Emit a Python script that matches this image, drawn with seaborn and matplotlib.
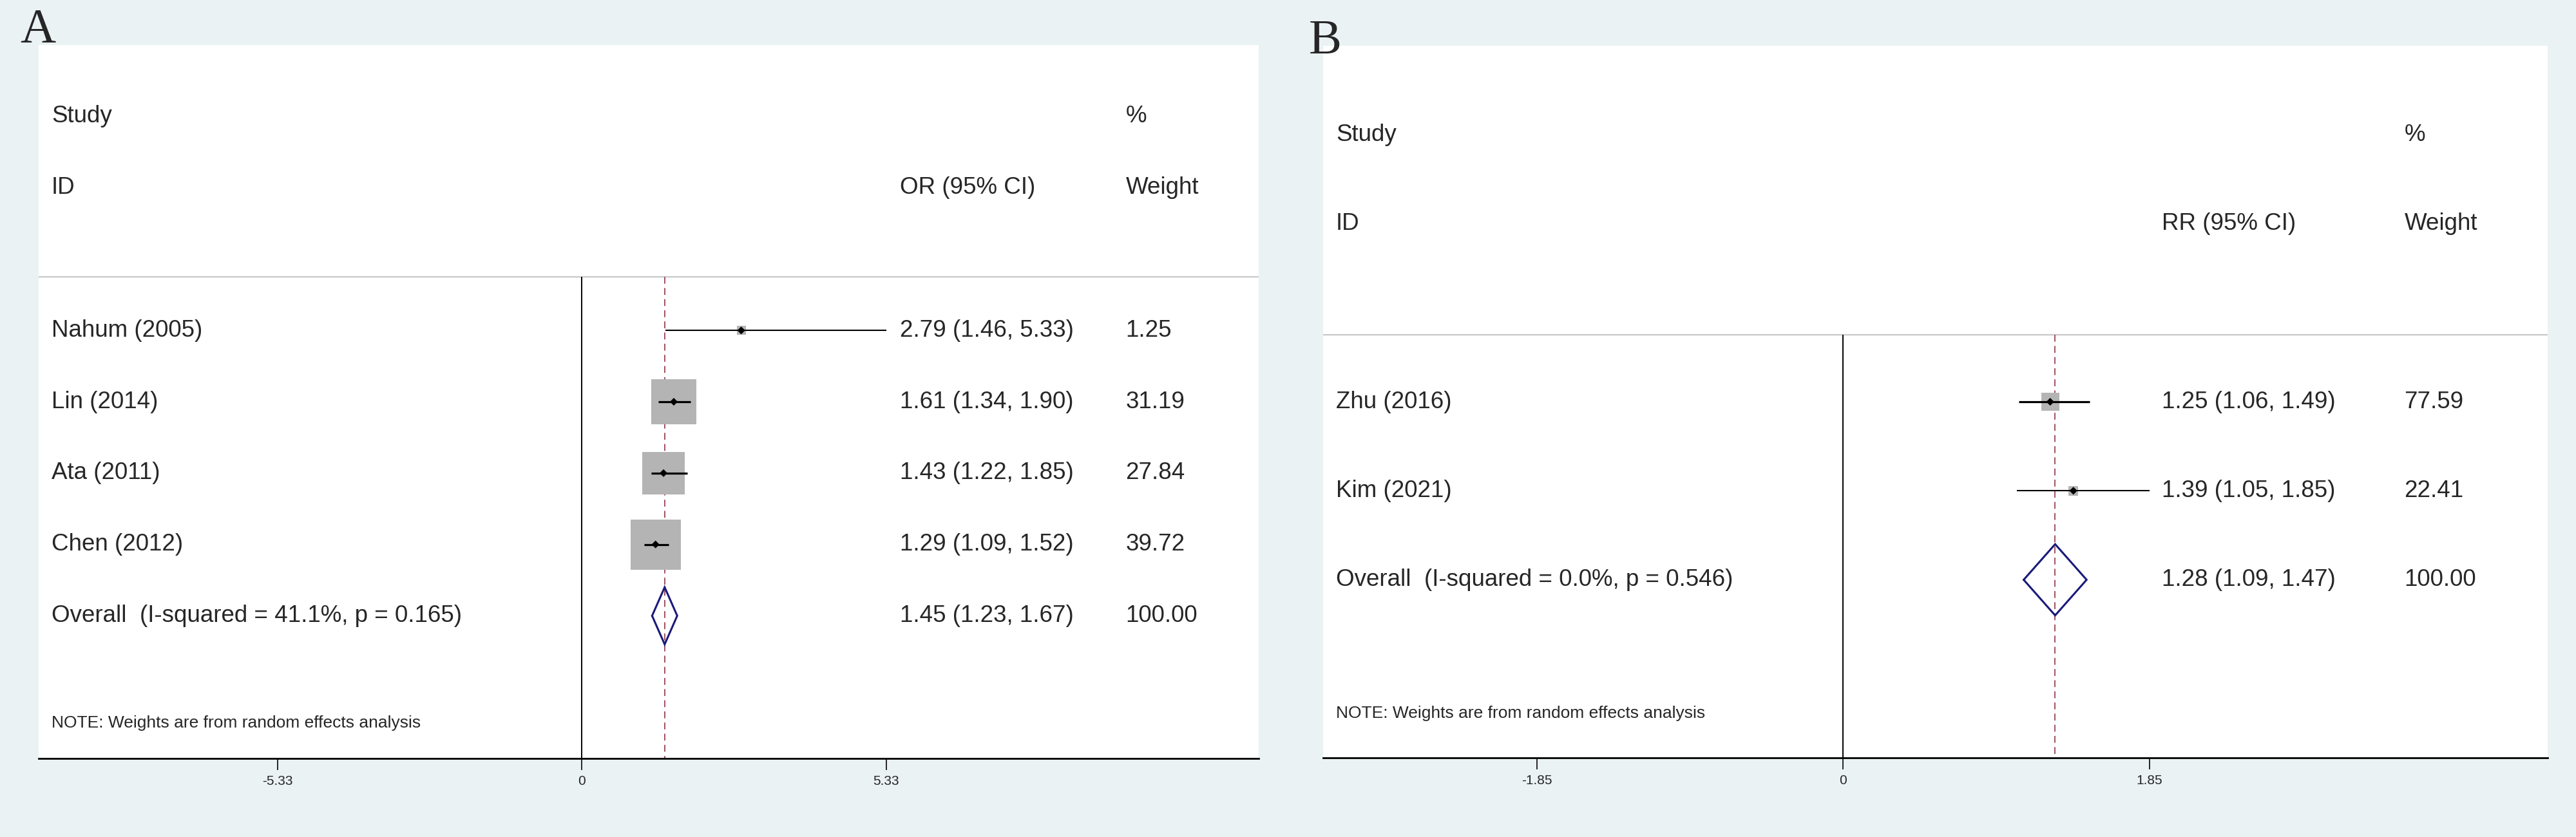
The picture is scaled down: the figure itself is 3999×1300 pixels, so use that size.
import numpy as np
import matplotlib
matplotlib.use("Agg")
import matplotlib.pyplot as plt
import seaborn as sns

# Panel A: odds ratios
a_studies = ["Nahum (2005)", "Lin (2014)", "Ata (2011)", "Chen (2012)"]
a_es = [2.79, 1.61, 1.43, 1.29]
a_lo = [1.46, 1.34, 1.22, 1.09]
a_hi = [5.33, 1.90, 1.85, 1.52]
a_weight = [1.25, 31.19, 27.84, 39.72]
a_overall = [1.45, 1.23, 1.67]
a_overall_label = "Overall  (I-squared = 41.1%, p = 0.165)"
a_ticks = [-5.33, 0, 5.33]
a_tick_labels = ["-5.33", "0", "5.33"]

# Panel B: risk ratios
b_studies = ["Zhu (2016)", "Kim (2021)"]
b_es = [1.25, 1.39]
b_lo = [1.06, 1.05]
b_hi = [1.49, 1.85]
b_weight = [77.59, 22.41]
b_overall = [1.28, 1.09, 1.47]
b_overall_label = "Overall  (I-squared = 0.0%, p = 0.546)"
b_ticks = [-1.85, 0, 1.85]
b_tick_labels = ["-1.85", "0", "1.85"]

note = "NOTE: Weights are from random effects analysis"

sns.set_style("white")
plt.rcParams['font.family'] = ['Liberation Sans', 'DejaVu Sans']

BG = "#eaf2f3"
GREY_BOX = "#b4b4b4"
NAVY = "#1a1a7a"
MAROON = "#a0505f"
TXT = 26.5


def forest(ax, studies, es, lo, hi, weight, overall, overall_label, measure,
           ticks, tick_labels, xlim, box_k, cols):
    n = len(studies)
    rows = np.arange(n)
    bottom = n + 2
    ax.set_facecolor("white")
    ax.set_xlim(*xlim)
    ax.set_ylim(bottom, -4)

    # header separator, null line, overall line
    ax.axhline(-0.75, color="#c8c8c8", lw=1.6, zorder=1)
    ax.vlines(0, -0.75, bottom, color="black", lw=1.4, zorder=2)
    ax.vlines(overall[0], -0.75, bottom, color=MAROON, lw=1.4,
              linestyles=(0, (5.5, 3.4)), zorder=1)

    # weight boxes, CI lines, point estimates
    w = np.array(weight)
    sizes = (box_k * np.sqrt(w) * 0.72) ** 2
    sns.scatterplot(x=es, y=rows, marker="s", s=sizes, color=GREY_BOX,
                    edgecolor="none", linewidth=0, zorder=3, ax=ax, legend=False)
    ax.hlines(rows, lo, hi, color="black", lw=np.where(w > 25, 2.3, 1.5), zorder=4)
    sns.scatterplot(x=es, y=rows, marker="D", s=38, color="black",
                    edgecolor="none", linewidth=0, zorder=5, ax=ax, legend=False)

    # overall diamond
    yo = n
    dx = [overall[1], overall[0], overall[2], overall[0], overall[1]]
    dy = [yo, yo - 0.4, yo, yo + 0.4, yo]
    ax.plot(dx, dy, color=NAVY, lw=2.2, zorder=5, solid_joinstyle="miter")

    # text columns
    tr = ax.get_yaxis_transform()
    c0, c1, c2 = cols
    ax.text(c0, -3, "Study", transform=tr, fontsize=TXT, va="center")
    ax.text(c0, -2, "ID", transform=tr, fontsize=TXT, va="center")
    ax.text(c1, -2, measure + " (95% CI)", transform=tr, fontsize=TXT, va="center")
    ax.text(c2, -3, "%", transform=tr, fontsize=TXT, va="center")
    ax.text(c2, -2, "Weight", transform=tr, fontsize=TXT, va="center")
    for i in range(n):
        ax.text(c0, i, studies[i], transform=tr, fontsize=TXT, va="center")
        ax.text(c1, i, f"{es[i]:.2f} ({lo[i]:.2f}, {hi[i]:.2f})", transform=tr,
                fontsize=TXT, va="center")
        ax.text(c2, i, f"{weight[i]:.2f}", transform=tr, fontsize=TXT, va="center")
    ax.text(c0, yo, overall_label, transform=tr, fontsize=TXT, va="center")
    ax.text(c1, yo, f"{overall[0]:.2f} ({overall[1]:.2f}, {overall[2]:.2f})",
            transform=tr, fontsize=TXT, va="center")
    ax.text(c2, yo, "100.00", transform=tr, fontsize=TXT, va="center")
    ax.text(c0, n + 1.5, note, transform=tr, fontsize=19, va="center")

    # axis
    for s in ["left", "top", "right"]:
        ax.spines[s].set_visible(False)
    ax.spines["bottom"].set_color("black")
    ax.spines["bottom"].set_linewidth(2.0)
    ax.set_yticks([])
    ax.set_xticks(ticks)
    ax.set_xticklabels(tick_labels)
    ax.tick_params(axis="x", direction="out", length=13, width=1.4,
                   labelsize=15, pad=6, bottom=True)
    ax.set_xlabel("")
    ax.set_ylabel("")


fig = plt.figure(figsize=(39.99, 13), dpi=100, facecolor=BG)

ax_a = fig.add_axes([60 / 3999, 122 / 1300, 1894 / 3999, 1108 / 1300])
forest(ax_a, a_studies, a_es, a_lo, a_hi, a_weight, a_overall, a_overall_label,
       "OR", a_ticks, a_tick_labels, (-9.51, 11.85), 12.4, (0.0106, 0.706, 0.891))

ax_b = fig.add_axes([2054 / 3999, 123 / 1300, 1901 / 3999, 1106 / 1300])
forest(ax_b, b_studies, b_es, b_lo, b_hi, b_weight, b_overall, b_overall_label,
       "RR", b_ticks, b_tick_labels, (-3.142, 4.255), 3.2, (0.0105, 0.685, 0.883))

fig.text(31 / 3999, 1 - 66 / 1300, "A", fontsize=55, family="Liberation Serif",
         va="baseline")
fig.text(2032 / 3999, 1 - 83 / 1300, "B", fontsize=55, family="Liberation Serif",
         va="baseline")

fig.savefig("out.png", dpi=100, facecolor=BG)
